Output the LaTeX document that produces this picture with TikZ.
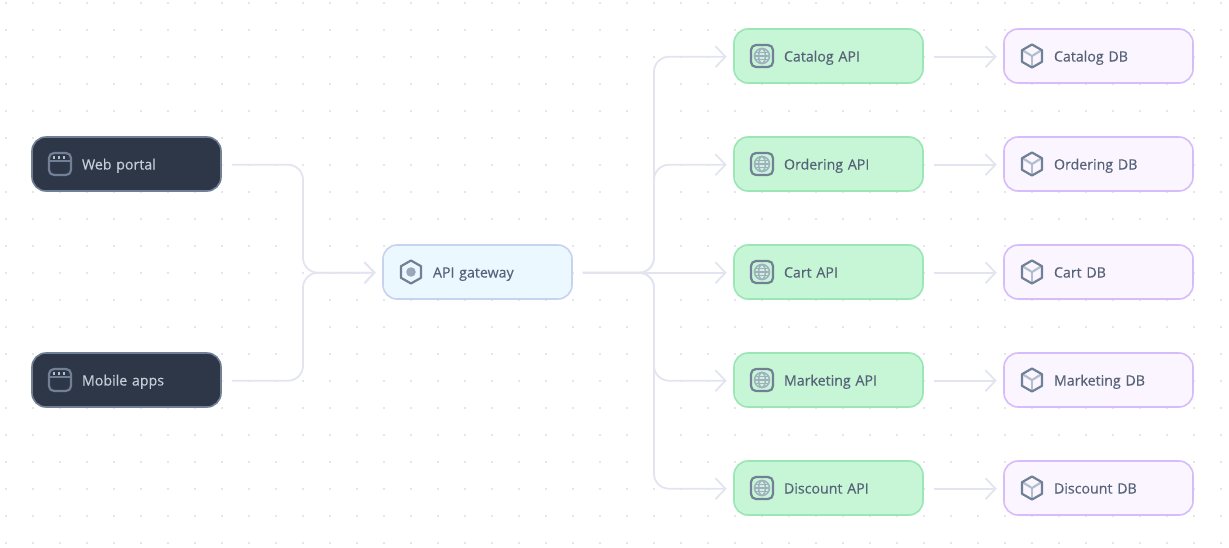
\documentclass[tikz,border=0pt]{standalone}
\usepackage{fontspec}
\setmainfont[FakeBold=0.4]{Open Sans}
\usetikzlibrary{arrows.meta}
\definecolor{conn}{HTML}{E2E4F0}
\definecolor{griddot}{HTML}{E4E5EF}
\definecolor{darkfill}{HTML}{2D3748}
\definecolor{darkline}{HTML}{718096}
\definecolor{darktext}{HTML}{C4CED9}
\definecolor{gwfill}{HTML}{EBF8FF}
\definecolor{gwline}{HTML}{C6D2F0}
\definecolor{apifill}{HTML}{C6F6D5}
\definecolor{apiline}{HTML}{9AE6B4}
\definecolor{dbfill}{HTML}{FAF5FF}
\definecolor{dbline}{HTML}{D6BCFA}
\definecolor{bodytext}{HTML}{566278}
\definecolor{iconline}{HTML}{718096}
\definecolor{iconsoft}{HTML}{A0AEC0}
\tikzset{
  box/.style={draw,line width=1.6pt,rounded corners=14pt,minimum width=189pt,minimum height=54pt,
    text width=169pt,text height=14pt,text depth=3pt,inner xsep=10pt,inner ysep=0pt,align=left,
    font=\fontsize{14.2}{16}\selectfont},
  client/.style={box,fill=darkfill,draw=darkline,text=darktext},
  gateway/.style={box,fill=gwfill,draw=gwline,text=bodytext},
  service/.style={box,fill=apifill,draw=apiline,text=bodytext},
  store/.style={box,fill=dbfill,draw=dbline,text=bodytext},
  link/.style={draw=conn,line width=1.8pt,rounded corners=15pt,shorten <=10pt,shorten >=6.5pt,
    -{Straight Barb[length=10pt,width=21pt,line width=1.8pt]}},
  icon/.style={draw=iconline,line width=2.2pt,line join=round},
  iconlight/.style={draw=iconsoft,line width=1.5pt}
}
\newcommand{\windowicon}[1]{\begin{scope}[shift={(#1)}]
  \draw[icon,rounded corners=5pt] (-11,-11) rectangle (11,11);
  \draw[icon] (-11,-2.8) -- (11,-2.8);
  \foreach \dx in {-6,-1,4}{\fill[darktext!80!darkline] (\dx-1.3,-7.6) rectangle (\dx+1.3,-5);}
\end{scope}}
\newcommand{\hexicon}[1]{\begin{scope}[shift={(#1)}]
  \draw[icon] (0,-11.5) -- (10,-5.8) -- (10,5.8) -- (0,11.5) -- (-10,5.8) -- (-10,-5.8) -- cycle;
  \fill[iconsoft!85!iconline] (0,0) circle (4.8);
\end{scope}}
\newcommand{\globeicon}[1]{\begin{scope}[shift={(#1)}]
  \draw[icon,rounded corners=5pt] (-11,-11) rectangle (11,11);
  \draw[iconlight] (0,0) circle (7.5);
  \draw[iconlight] (0,0) ellipse (3.4 and 7.5);
  \draw[iconlight] (-7.5,0) -- (7.5,0);
  \draw[iconlight] (-6.6,-3.6) -- (6.6,-3.6);
  \draw[iconlight] (-6.6,3.6) -- (6.6,3.6);
\end{scope}}
\newcommand{\cubeicon}[1]{\begin{scope}[shift={(#1)}]
  \draw[iconsoft!80!white,line width=2.2pt] (-9.5,-5.8) -- (0,0) -- (9.5,-5.8);
  \draw[iconsoft!80!white,line width=2.2pt] (0,0) -- (0,11);
  \draw[icon] (0,-11.5) -- (10,-5.8) -- (10,5.8) -- (0,11.5) -- (-10,5.8) -- (-10,-5.8) -- cycle;
\end{scope}}
\begin{document}
\begin{tikzpicture}[x=1pt,y=-1pt]
\useasboundingbox (0,0) rectangle (1229,547);
\foreach \gx in {6,33,...,1229}{\foreach \gy in {3,30,...,547}{
  \fill[griddot] (\gx-0.8,\gy-0.8) rectangle (\gx+0.8,\gy+0.8);}}
\node[client] (web) at (126.5,164) {\hspace*{40pt}Web portal};
\node[client] (mobile) at (126.5,380) {\hspace*{40pt}Mobile apps};
\node[gateway] (gw) at (477.5,272) {\hspace*{40pt}API gateway};
\foreach \nm/\lab/\yy in {catalog/Catalog/56,ordering/Ordering/164,cart/Cart/272,marketing/Marketing/380,discount/Discount/488}{
  \node[service] (\nm api) at (828.5,\yy) {\hspace*{40pt}\lab{} API};
  \node[store] (\nm db) at (1098.5,\yy) {\hspace*{40pt}\lab{} DB};
  \globeicon{762,\yy}
  \cubeicon{1032,\yy}
}
\windowicon{60,164}
\windowicon{60,380}
\hexicon{411,272}
\coordinate (lbus) at (303,272.7);
\coordinate (rbus) at (654,272.7);
\draw[link] ([yshift=-0.7pt]web.east) -| (lbus) -- ([yshift=-0.7pt]gw.west);
\draw[link] ([yshift=-0.7pt]mobile.east) -| (lbus) -- ([yshift=-0.7pt]gw.west);
\draw[link] ([yshift=-0.7pt]gw.east) -- (rbus) |- ([yshift=-0.7pt]catalogapi.west);
\draw[link] ([yshift=-0.7pt]gw.east) -- (rbus) |- ([yshift=-0.7pt]orderingapi.west);
\draw[link] ([yshift=-0.7pt]gw.east) -- ([yshift=-0.7pt]cartapi.west);
\draw[link] ([yshift=-0.7pt]gw.east) -- (rbus) |- ([yshift=-0.7pt]marketingapi.west);
\draw[link] ([yshift=-0.7pt]gw.east) -- (rbus) |- ([yshift=-0.7pt]discountapi.west);
\foreach \nm in {catalog,ordering,cart,marketing,discount}{
  \draw[link] ([yshift=-0.7pt]\nm api.east) -- ([yshift=-0.7pt]\nm db.west);
}
\end{tikzpicture}
\end{document}
